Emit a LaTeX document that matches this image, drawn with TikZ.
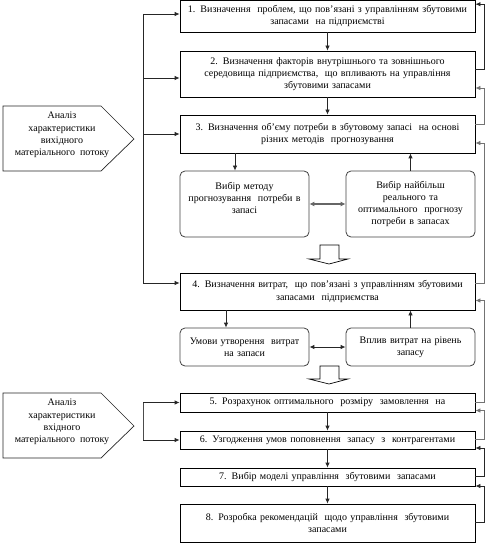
\documentclass[tikz,border=0pt]{standalone}
\usepackage{fontspec}
\setmainfont{Liberation Serif}
\usetikzlibrary{arrows.meta,calc}
\begin{document}
\begin{tikzpicture}[x=1pt,y=-1pt,
  font=\rmfamily\fontsize{10}{12.2}\selectfont,
  mainbox/.style={draw=black,line width=0.8pt,minimum width=295pt,align=center,text width=292pt,inner sep=1pt},
  subbox/.style={draw=black!75,line width=0.8pt,rounded corners=5pt,minimum width=129pt,align=center,text width=127pt,inner sep=1pt},
  arr/.style={line width=0.8pt,draw=black!85,-{Latex[length=5pt,width=4.5pt]}},
  garr/.style={line width=0.8pt,draw=black!55,-{Latex[length=5pt,width=4.5pt]}},
  darr/.style={line width=1.4pt,draw=black!60,{Latex[length=5pt,width=5pt]}-{Latex[length=5pt,width=5pt]}},
  penta/.style={draw=black!85,line width=0.7pt},
  hollow/.style={draw=black,line width=0.7pt,fill=white}]
\useasboundingbox (0,0) rectangle (498,548);

% main boxes
\node[mainbox,minimum height=31.5pt] (b1) at (327.5,16.2) {1. Визначення \ проблем, що пов’язані з управлінням збутовими\\ запасами \ на підприємстві};
\node[mainbox,minimum height=46pt] (b2) at (327.5,74) {2. Визначення факторів внутрішнього та зовнішнього\\ середовища підприємства, \ що впливають на управління\\ збутовими запасами};
\node[mainbox,minimum height=38pt] (b3) at (327.5,134) {3. Визначення об’єму потреби в збутовому запасі \ на основі\\ різних методів \ прогнозування};
\node[mainbox,minimum height=37pt] (b4) at (327.5,291.5) {4. Визначення витрат, \ що пов’язані з управлінням збутовими\\ запасами \ підприємства};
\node[mainbox,minimum height=19pt] (b5) at (327.5,402.5) {5. Розрахунок оптимального \ розміру \ замовлення \ на};
\node[mainbox,minimum height=18pt] (b6) at (327.5,440) {6. Узгодження умов поповнення \ запасу \ з \ контрагентами};
\node[mainbox,minimum height=18pt] (b7) at (327.5,477) {7. Вибір моделі управління \ збутовими \ запасами};
\node[mainbox,minimum height=38pt] (b8) at (327.5,523) {8. Розробка рекомендацій \ щодо управління \ збутовими\\ запасами};

% sub boxes
\node[subbox,minimum height=66pt] (r1) at (244.5,204) {Вибір методу\\ прогнозування \ потреби в\\ запасі\\ \mbox{}};
\node[subbox,minimum height=66pt] (r2) at (410.5,204) {Вибір найбільш\\ реального та\\ оптимального \ прогнозу\\ потреби в запасах};
\node[subbox,minimum height=38pt] (r3) at (244.5,347) {Умови утворення \ витрат\\ на запаси};
\node[subbox,minimum height=38pt] (r4) at (410.5,347) {Вплив витрат на рівень\\ запасу};

% pentagons
\draw[penta] (3,106) -- (101,106) -- (134,139) -- (101,171) -- (3,171) -- cycle;
\node[align=center] (p1) at (62,135) {Аналіз\\ характеристики\\ вихідного\\ матеріального \ потоку};
\draw[penta] (3,393) -- (101,393) -- (134,426) -- (101,458) -- (3,458) -- cycle;
\node[align=center] (p2) at (62,422) {Аналіз\\ характеристики\\ вхідного\\ матеріального \ потоку};

% left bus 1
\coordinate (l1) at (143,14);
\coordinate (l4) at (143,283);
\draw[line width=0.8pt,draw=black!85] (l1) -- (l4);
\draw[arr] (l1) -- (l1 -| b1.west);
\draw[arr] ([yshift=-4pt]b2.west -| l1) -- ([yshift=-4pt]b2.west);
\draw[arr] (b3.west -| l1) -- (b3.west);
\draw[arr] (l4) -- (l4 -| b4.west);

% left bus 2
\coordinate (l5) at (143,402.5);
\coordinate (l6) at (143,440);
\draw[line width=0.8pt,draw=black!70] (l5) -- (l6);
\draw[arr] (l5) -- (b5.west);
\draw[arr] (l6) -- (b6.west);

% down arrows
\draw[arr] (b1) -- (b2);
\draw[arr] (b2) -- (b3);
\draw[arr] (b5) -- (b6);
\draw[arr] (b6) -- (b7);
\draw[arr] (b7) -- (b8);
\draw[arr] ([xshift=-9.5pt]r1.north |- b3.south) -- ([xshift=-9.5pt]r1.north);
\draw[arr] (r2.north) -- (r2.north |- b3.south);
\draw[arr] ([xshift=-18.5pt]r3.north |- b4.south) -- ([xshift=-18.5pt]r3.north);
\draw[arr] (r4.north) -- (r4.north |- b4.south);

% double arrows
\draw[darr] (r1.east) -- (r2.west);
\draw[line width=0.9pt,draw=black!85,{Latex[length=5pt,width=4.5pt]}-{Latex[length=5pt,width=4.5pt]}] (r3.east) -- (r4.west);

% hollow arrows
\draw[hollow] (320,245) -- (320,259) -- (309,259) -- (329,264) -- (348,259) -- (339,259) -- (339,245) -- cycle;
\draw[hollow] (320,366) -- (320,379) -- (309,379) -- (329,384) -- (348,379) -- (339,379) -- (339,366) -- cycle;

% feedback arrows (right side)
\draw[arr] ([yshift=5pt]b2.east) -- ++(9pt,0) |- ([yshift=12pt]b1.east);
\draw[garr] ([yshift=10pt]b3.east) -- ++(9pt,0) |- ([yshift=-14pt]b2.east);
\draw[garr] ([yshift=8.5pt]b4.east) -- ++(9pt,0) |- ([yshift=-9pt]b3.east);
\draw[garr] (b5.east) -- ++(9pt,0) |- ([yshift=-9pt]b4.east);
\draw[garr] ([yshift=1pt]b6.east) -- ++(9pt,0) |- ([yshift=-8pt]b5.east);
\draw[arr] ([yshift=1pt]b7.east) -- ++(9pt,0) |- ([yshift=-8pt]b6.east);
\draw[arr] ([yshift=1pt]b8.east) -- ++(9pt,0) |- ([yshift=-9pt]b7.east);
\end{tikzpicture}
\end{document}
